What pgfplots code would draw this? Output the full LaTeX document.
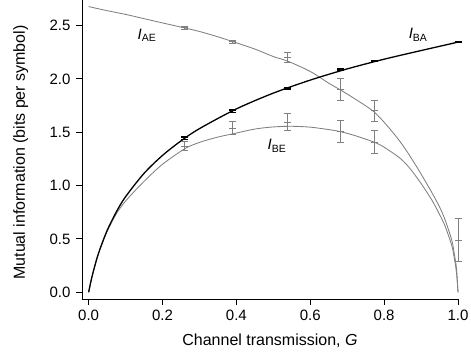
\documentclass[border=0pt]{standalone}
\usepackage{pgfplots}
\pgfplotsset{compat=1.18}
\usepackage{fontspec}
\setmainfont{Liberation Sans}
\definecolor{cgray}{gray}{0.5}
\begin{document}
\begin{tikzpicture}
\begin{axis}[
  width=376pt, height=299pt, scale only axis,
  xmin=-0.018, xmax=1.0, ymin=-0.063, ymax=2.74,
  axis x line*=bottom, axis y line*=left,
  axis line style={-, line width=0.9pt},
  tick align=outside, major tick length=6pt,
  tick style={line width=0.9pt, black},
  xtick={0,0.2,0.4,0.6,0.8,1.0}, ytick={0,0.5,1.0,1.5,2.0,2.5},
  /pgf/number format/assume math mode=true,
  /pgf/number format/.cd, fixed, fixed zerofill, precision=1, /pgfplots/.cd,
  ticklabel style={font=\fontsize{15}{17}\selectfont},
  xticklabel style={yshift=-1pt},
  yticklabel style={xshift=-2pt},
  label style={font=\fontsize{16}{18}\selectfont},
  xlabel={Channel transmission, \textit{G}},
  ylabel={Mutual information (bits per symbol)},
  xlabel style={at={(axis description cs:0.5,-0.1572)}, anchor=base},
  ylabel style={at={(axis description cs:-0.1516,0.49)}, anchor=base, rotate=0},
  clip=false,
]
% I_AE theory
\addplot[cgray, line width=0.85pt, smooth] coordinates {
(0,2.678) (0.05,2.64) (0.1,2.605) (0.15,2.565) (0.2,2.525) (0.26,2.478) (0.3,2.445)
(0.35,2.395) (0.39,2.35) (0.45,2.28) (0.5,2.21) (0.54,2.165) (0.6,2.07) (0.65,1.96)
(0.68,1.90) (0.72,1.815) (0.773,1.69) (0.816,1.53) (0.85,1.38) (0.884,1.20) (0.91,1.05)
(0.93,0.93) (0.95,0.80) (0.965,0.68) (0.983,0.49) (0.99,0.36) (0.996,0.22) (1.0,0.0)};
% I_BE theory
\addplot[cgray, line width=0.85pt, smooth] coordinates {
(0,0) (0.005,0.084) (0.01,0.158) (0.02,0.287) (0.03,0.395) (0.05,0.57) (0.075,0.735)
(0.1,0.855) (0.15,1.04) (0.2,1.20) (0.26,1.345) (0.3,1.405) (0.35,1.455) (0.39,1.485)
(0.45,1.53) (0.5,1.55) (0.55,1.556) (0.6,1.548) (0.65,1.525) (0.68,1.507) (0.72,1.47)
(0.773,1.407) (0.8,1.36) (0.843,1.257) (0.87,1.16) (0.9,1.02) (0.93,0.86) (0.95,0.73)
(0.965,0.62) (0.983,0.44) (0.99,0.32) (0.996,0.18) (1.0,0)};
% I_BA theory
\addplot[black, line width=1.3pt, smooth] coordinates {
(0,0) (0.005,0.084) (0.01,0.159) (0.02,0.289) (0.03,0.399) (0.05,0.579) (0.075,0.754)
(0.1,0.896) (0.15,1.115) (0.2,1.283) (0.25,1.419) (0.3,1.534) (0.4,1.719) (0.5,1.867)
(0.6,1.989) (0.7,2.094) (0.8,2.185) (0.9,2.266) (1.0,2.345)};
% I_AE data
\addplot[cgray, line width=0.9pt, only marks, mark=-, mark size=3.5pt,
  error bars/.cd, y dir=both, y explicit,
  error bar style={line width=0.9pt}, error mark options={rotate=90, mark size=3.5pt, line width=0.9pt}]
  coordinates {
(0.259,2.48) +- (0,0.015)
(0.39,2.35) +- (0,0.015)
(0.538,2.20) +- (0,0.05)
(0.682,1.90) +- (0,0.10)
(0.773,1.70) +- (0,0.10)
(1.0,0.49) +- (0,0.20)};
% I_BE data
\addplot[cgray, line width=0.9pt, only marks, mark=-, mark size=3.5pt,
  error bars/.cd, y dir=both, y explicit,
  error bar style={line width=0.9pt}, error mark options={rotate=90, mark size=3.5pt, line width=0.9pt}]
  coordinates {
(0.259,1.37) +- (0,0.045)
(0.39,1.54) +- (0,0.06)
(0.538,1.595) +- (0,0.08)
(0.682,1.507) +- (0,0.10)
(0.773,1.407) +- (0,0.11)};
% I_BA data
\addplot[black, line width=1pt, only marks, mark=-, mark size=3.5pt,
  error bars/.cd, y dir=both, y explicit,
  error bar style={line width=1pt}, error mark options={rotate=90, mark size=3.5pt, line width=1pt}]
  coordinates {
(0.259,1.447) +- (0,0.015)
(0.39,1.70) +- (0,0.012)
(0.538,1.914) +- (0,0.01)
(0.682,2.09) +- (0,0.01)
(0.773,2.17) +- (0,0.005)
(1.0,2.35) +- (0,0.005)};
\node[font=\fontsize{15}{17}\selectfont] at (axis cs:0.158,2.41) {\textit{I}\textsubscript{AE}};
\node[font=\fontsize{15}{17}\selectfont] at (axis cs:0.892,2.414) {\textit{I}\textsubscript{BA}};
\node[font=\fontsize{15}{17}\selectfont] at (axis cs:0.51,1.372) {\textit{I}\textsubscript{BE}};
\end{axis}
\pgfresetboundingbox
\useasboundingbox ([shift={(-82pt,-56pt)}]current axis.south west) rectangle ([shift={(389pt,299pt)}]current axis.south west);
\end{tikzpicture}
\end{document}
